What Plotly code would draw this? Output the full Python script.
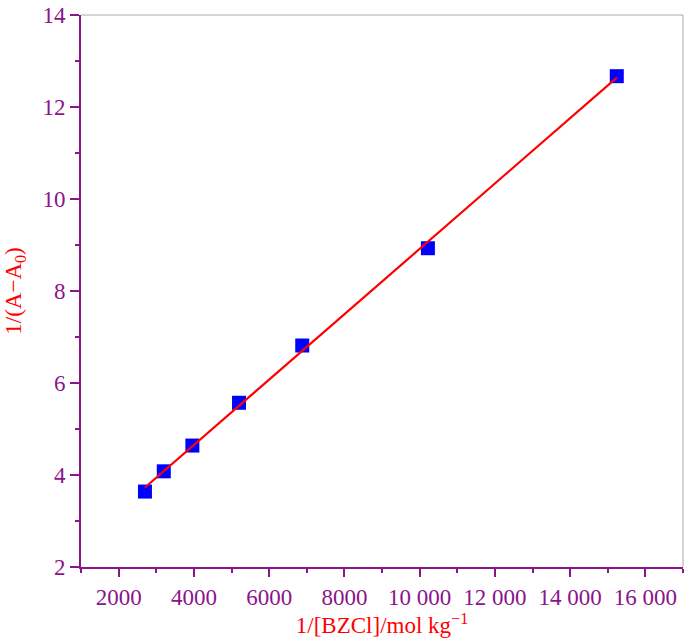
import numpy as np
import plotly.graph_objects as go

# Data
inv_bzcl = [2700, 3200, 3960, 5200, 6880, 10220, 15240]
inv_dA = [3.64, 4.08, 4.64, 5.57, 6.815, 8.93, 12.67]

x_tickvals = [2000, 4000, 6000, 8000, 10000, 12000, 14000, 16000]
x_ticktext = ["2000", "4000", "6000", "8000", "10 000", "12 000", "14 000", "16 000"]
y_tickvals = [2, 4, 6, 8, 10, 12, 14]

# Linear fit through the data
slope, intercept = np.polyfit(inv_bzcl, inv_dA, 1)
fit_x = [min(inv_bzcl), max(inv_bzcl)]
fit_y = [slope * v + intercept for v in fit_x]

PURPLE = "#8a148a"
FONT = "Liberation Serif"
FS = 23

fig = go.Figure()
fig.add_trace(go.Scatter(
    x=inv_bzcl, y=inv_dA, mode="markers",
    marker=dict(symbol="square", size=14, color="#0000ff",
                line=dict(width=0)),
    showlegend=False, hoverinfo="x+y"))
fig.add_trace(go.Scatter(
    x=fit_x, y=fit_y, mode="lines",
    line=dict(color="#ff0000", width=2.2),
    showlegend=False, hoverinfo="skip"))

fig.update_layout(
    width=686, height=642,
    margin=dict(l=81, r=3, t=12, b=75),
    plot_bgcolor="white", paper_bgcolor="white",
    font=dict(family=FONT, size=FS, color=PURPLE),
    xaxis=dict(
        range=[1000, 17000], tickmode="array",
        tickvals=x_tickvals, ticktext=x_ticktext,
        showgrid=False, zeroline=False,
        showline=True, linecolor=PURPLE, linewidth=2,
        ticks="outside", ticklen=8, tickwidth=1.5, tickcolor=PURPLE,
        ticklabeloverflow="allow",
        tickfont=dict(family=FONT, size=FS, color=PURPLE),
        minor=dict(tick0=1000, dtick=1000, ticks="outside", ticklen=4,
                   tickwidth=1.5, tickcolor=PURPLE, showgrid=False),
        title=dict(text="1/[BZCl]/mol kg<sup>−1</sup>",
                   font=dict(family=FONT, size=FS, color="#ff0000"),
                   standoff=5),
    ),
    yaxis=dict(
        range=[2, 14], tickmode="array", tickvals=y_tickvals,
        showgrid=False, zeroline=False,
        showline=True, linecolor=PURPLE, linewidth=2,
        ticks="outside", ticklen=9, tickwidth=1.5, tickcolor=PURPLE,
        ticklabeloverflow="allow",
        tickfont=dict(family=FONT, size=FS, color=PURPLE),
        minor=dict(tick0=2, dtick=1, ticks="outside", ticklen=4,
                   tickwidth=1.5, tickcolor=PURPLE, showgrid=False),
        title=dict(text="1/(A−A<sub>0</sub>)",
                   font=dict(family=FONT, size=FS, color="#ff0000"),
                   standoff=14),
    ),
    shapes=[
        dict(type="line", xref="x domain", yref="y domain",
             x0=0, x1=1, y0=1, y1=1, line=dict(color="#aaaaaa", width=1)),
        dict(type="line", xref="x domain", yref="y domain",
             x0=1, x1=1, y0=0, y1=1, line=dict(color="#aaaaaa", width=1)),
    ],
)

fig.write_html("out.html", config={"displayModeBar": False},
               post_script="document.body.style.margin='0';")
